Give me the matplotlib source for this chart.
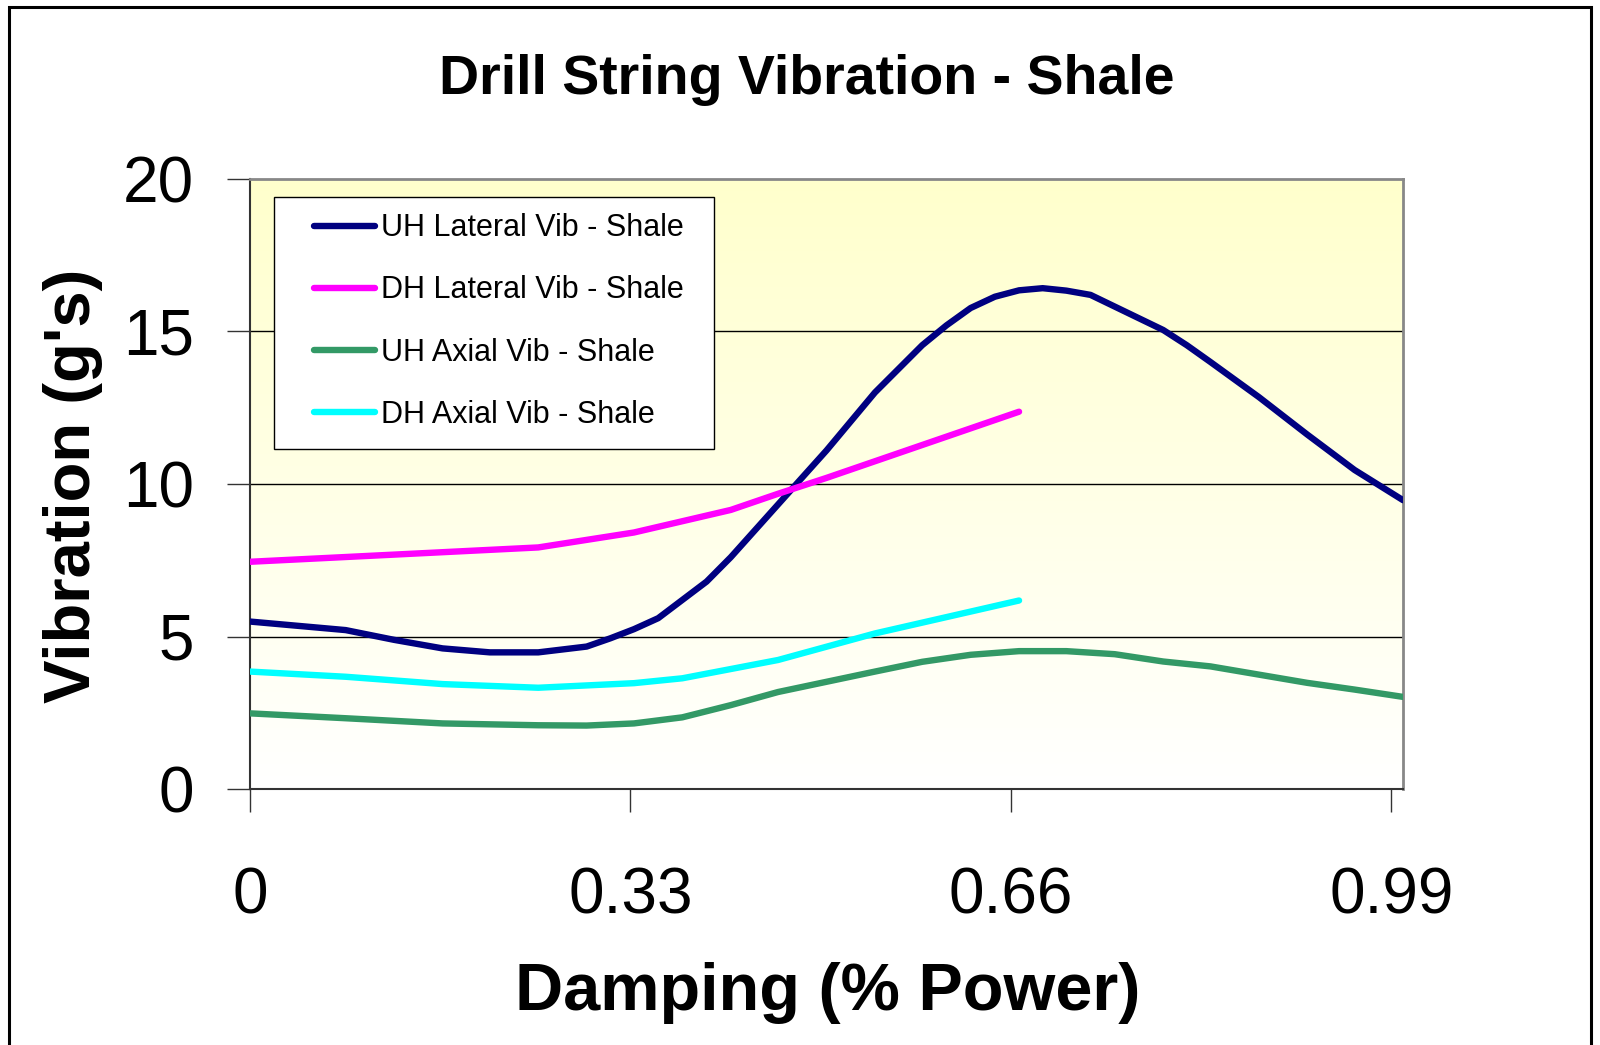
import numpy as np
import matplotlib
matplotlib.use("Agg")
import matplotlib.pyplot as plt
from matplotlib.patches import Rectangle

plt.rcParams['font.family'] = ['Liberation Sans', 'DejaVu Sans']

# damping values (fraction of power) and vibration readings (g's)
x_uh_lat = [0, 0.083, 0.125, 0.167, 0.208, 0.25, 0.292, 0.3125, 0.333, 0.354,
            0.396, 0.417, 0.458, 0.5, 0.542, 0.583, 0.604, 0.625, 0.646, 0.667,
            0.6875, 0.708, 0.729, 0.792, 0.8125, 0.833, 0.875, 0.917, 0.958, 1.0]
uh_lat = [5.49, 5.21, 4.89, 4.61, 4.48, 4.48, 4.67, 4.94, 5.24, 5.60,
          6.80, 7.6, 9.33, 11.1, 13.0, 14.55, 15.2, 15.77, 16.14, 16.35,
          16.42, 16.34, 16.2, 15.05, 14.55, 14.0, 12.85, 11.62, 10.46, 9.47]

x_dh_lat = [0, 0.25, 0.333, 0.417, 0.458, 0.5, 0.667]
dh_lat = [7.45, 7.92, 8.41, 9.15, 9.68, 10.2, 12.37]

x_uh_ax = [0, 0.083, 0.167, 0.25, 0.292, 0.333, 0.375, 0.417, 0.458, 0.542,
           0.583, 0.625, 0.667, 0.708, 0.75, 0.792, 0.833, 0.875, 0.917, 0.958, 1.0]
uh_ax = [2.48, 2.32, 2.15, 2.09, 2.08, 2.15, 2.35, 2.75, 3.18, 3.85,
         4.17, 4.40, 4.52, 4.52, 4.42, 4.18, 4.02, 3.75, 3.48, 3.26, 3.02]

x_dh_ax = [0, 0.083, 0.167, 0.25, 0.333, 0.375, 0.458, 0.542, 0.667]
dh_ax = [3.85, 3.68, 3.44, 3.32, 3.47, 3.63, 4.23, 5.1, 6.18]

series = [
    (x_uh_lat, uh_lat, "UH Lateral Vib - Shale", "#000080"),
    (x_dh_lat, dh_lat, "DH Lateral Vib - Shale", "#FF00FF"),
    (x_uh_ax, uh_ax, "UH Axial Vib - Shale", "#339966"),
    (x_dh_ax, dh_ax, "DH Axial Vib - Shale", "#00FFFF"),
]
x_ticks = [0, 0.33, 0.66, 0.99]
x_tick_labels = ["0", "0.33", "0.66", "0.99"]
y_ticks = [0, 5, 10, 15, 20]

W, H = 1600, 1045
fig = plt.figure(figsize=(W / 100, H / 100), dpi=100)
ax = fig.add_axes([250 / W, (H - 789) / H, 1153 / W, 610 / H])

# yellow to white gradient in the plot area
grad = np.linspace(0, 1, 256).reshape(-1, 1)
top = np.array([1.0, 1.0, 0.80])
bot = np.array([1.0, 1.0, 1.0])
img = bot + (top - bot) * grad[..., None]
ax.imshow(img, extent=[0, 1, 0, 20], origin='lower', aspect='auto', zorder=0)

for y in [5, 10, 15]:
    ax.axhline(y, color='black', lw=1, zorder=1)

for xs, ys, name, col in series:
    ax.plot(xs, ys, color=col, lw=4.6, label=name, solid_capstyle='round',
            solid_joinstyle='round', zorder=3)

ax.set_xlim(0, 1.0)
ax.set_ylim(0, 20)
ax.set_xticks(x_ticks)
ax.set_xticklabels(x_tick_labels)
ax.set_yticks(y_ticks)
ax.tick_params(axis='both', direction='out', length=16.5, width=1,
               labelsize=46, color='#333333')
ax.tick_params(axis='y', pad=24)
ax.tick_params(axis='x', pad=39)

for side in ['left', 'bottom']:
    ax.spines[side].set_color('#333333')
    ax.spines[side].set_linewidth(1.5)
for side in ['top', 'right']:
    ax.spines[side].set_color('#888888')
    ax.spines[side].set_linewidth(2)

# legend box drawn separately so the inner margins match the original
ax.add_patch(Rectangle((0.0204, 0.5574), 0.3823, 0.4131, transform=ax.transAxes,
                       facecolor='white', edgecolor='black', lw=1, zorder=4))
leg = ax.legend(loc='upper left', bbox_to_anchor=(0.0555, 0.9437),
                borderaxespad=0, borderpad=0, fontsize=22, frameon=False,
                labelspacing=1.05, handlelength=2.0, handletextpad=0.2)
leg.set_zorder(5)
for line in leg.get_lines():
    line.set_linewidth(4.6)

fig.text(807 / W, (H - 94) / H, "Drill String Vibration - Shale",
         fontsize=40, fontweight='bold', ha='center', va='baseline')
fig.text(828 / W, (H - 1010) / H, "Damping (% Power)",
         fontsize=48, fontweight='bold', ha='center', va='baseline')
fig.text(90 / W, (H - 486) / H, "Vibration (g's)", fontsize=47,
         fontweight='bold', ha='center', va='baseline', rotation=90,
         rotation_mode='anchor')

# chart border
fig.add_artist(Rectangle((9 / W, -0.05), (W - 18) / W, (H - 7) / H + 0.05,
                         transform=fig.transFigure, fill=False,
                         edgecolor='black', lw=2.2))

fig.savefig("out.png", dpi=100, facecolor='white')
